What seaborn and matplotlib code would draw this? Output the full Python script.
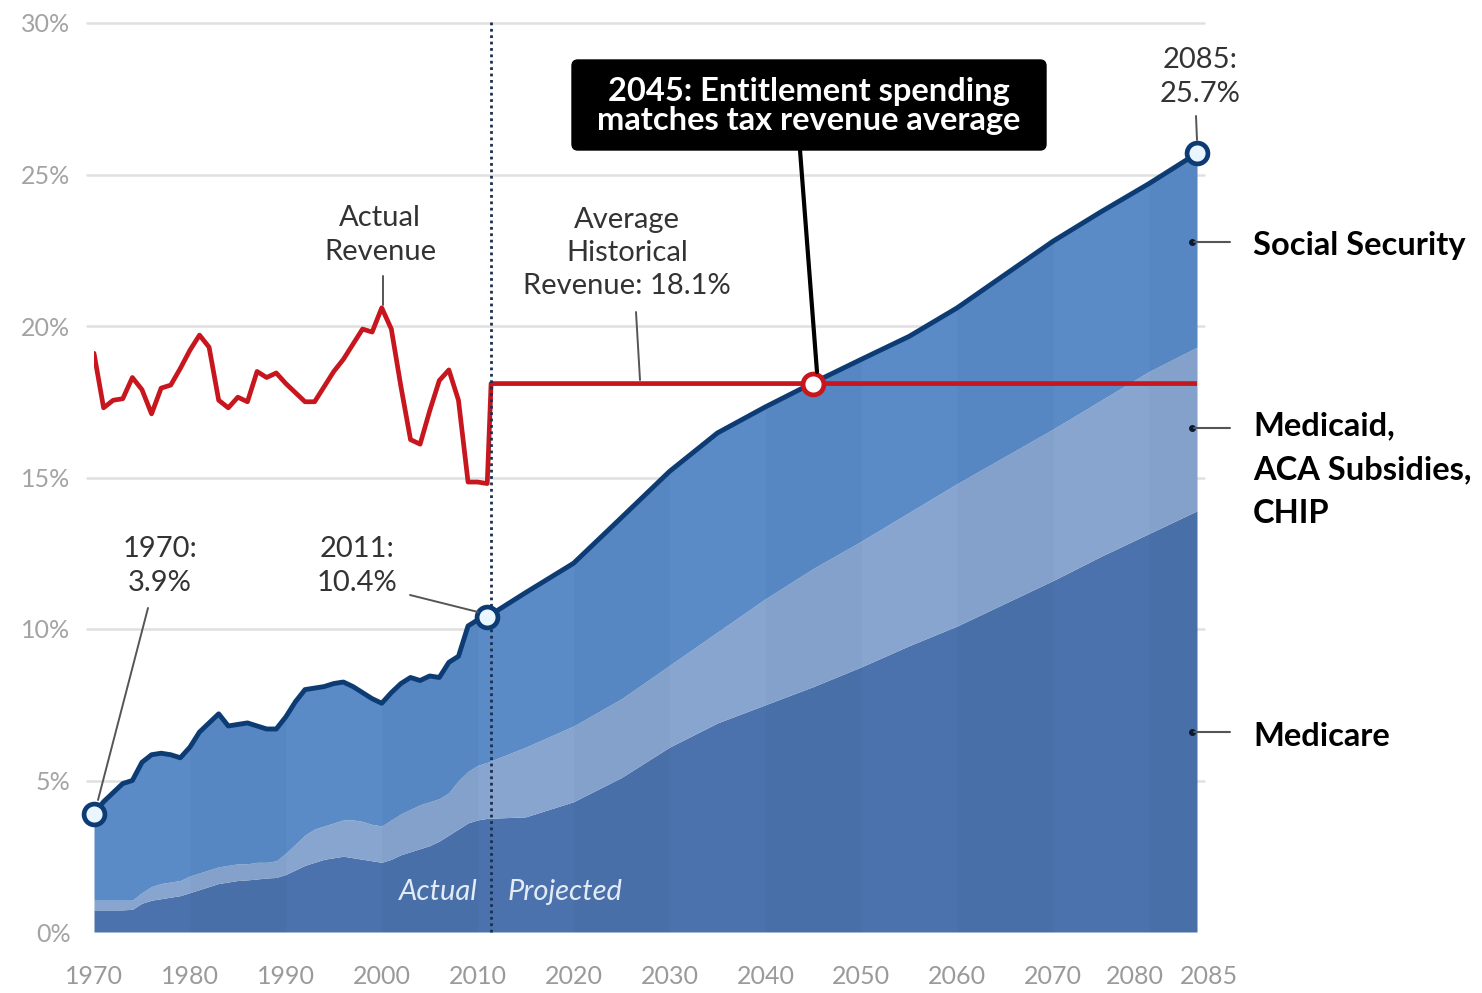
import numpy as np
import pandas as pd
import matplotlib
matplotlib.use("Agg")
import matplotlib.pyplot as plt
import matplotlib.transforms as mtransforms
from matplotlib.patches import FancyBboxPatch
import seaborn as sns

# ---------------- data (share of GDP, %) ----------------
hist_years = list(range(1970, 2012))
proj_years = [2015, 2020, 2025, 2030, 2035, 2040, 2045, 2050, 2055, 2060,
              2065, 2070, 2075, 2080, 2085]
years = hist_years + proj_years

medicare = [0.73, 0.73, 0.73, 0.73, 0.75, 0.95, 1.05, 1.10, 1.15, 1.20,
            1.30, 1.40, 1.50, 1.60, 1.65, 1.70, 1.72, 1.75, 1.78, 1.80,
            1.90, 2.05, 2.20, 2.30, 2.40, 2.45, 2.50, 2.45, 2.40, 2.35,
            2.30, 2.40, 2.55, 2.65, 2.75, 2.85, 3.00, 3.20, 3.40, 3.60,
            3.70, 3.75,
            3.80, 4.30, 5.10, 6.10, 6.90, 7.50, 8.10, 8.75, 9.45, 10.10,
            10.85, 11.60, 12.40, 13.15, 13.90]
medicaid_aca_chip = [0.32, 0.32, 0.32, 0.32, 0.30, 0.35, 0.45, 0.50, 0.50, 0.50,
                     0.55, 0.55, 0.55, 0.55, 0.55, 0.55, 0.53, 0.55, 0.52, 0.55,
                     0.70, 0.85, 1.00, 1.10, 1.10, 1.15, 1.20, 1.25, 1.25, 1.20,
                     1.20, 1.30, 1.35, 1.40, 1.45, 1.45, 1.40, 1.40, 1.60, 1.70,
                     1.80, 1.85,
                     2.30, 2.50, 2.60, 2.70, 3.00, 3.50, 3.90, 4.15, 4.40, 4.70,
                     4.85, 5.00, 5.15, 5.35, 5.40]
social_security = [2.85, 3.25, 3.55, 3.85, 3.95, 4.30, 4.35, 4.30, 4.20, 4.05,
                   4.25, 4.65, 4.85, 5.05, 4.60, 4.60, 4.65, 4.50, 4.40, 4.35,
                   4.50, 4.70, 4.80, 4.65, 4.60, 4.60, 4.55, 4.40, 4.25, 4.15,
                   4.05, 4.20, 4.30, 4.35, 4.10, 4.15, 4.00, 4.30, 4.10, 4.80,
                   4.80, 4.80,
                   5.10, 5.37, 5.98, 6.40, 6.57, 6.33, 6.13, 6.00, 5.81, 5.80,
                   6.00, 6.20, 6.22, 6.20, 6.40]

revenue_years = list(range(1970, 2012))
actual_revenue = [19.1, 17.3, 17.55, 17.6, 18.3, 17.9, 17.1, 17.95, 18.05, 18.6,
                  19.2, 19.7, 19.3, 17.55, 17.3, 17.65, 17.5, 18.5, 18.3, 18.45,
                  18.1, 17.8, 17.5, 17.5, 18.0, 18.5, 18.9, 19.4, 19.9, 19.8,
                  20.6, 19.9, 18.0, 16.25, 16.1, 17.2, 18.2, 18.55, 17.55, 14.85,
                  14.85, 14.8]
avg_revenue = 18.1
avg_years = [2011.4, 2085]
crossover_year = 2045

highlight_years = [1970, 2011, 2085]
x_ticks = [1970, 1980, 1990, 2000, 2010, 2020, 2030, 2040, 2050, 2060, 2070, 2080, 2085]
y_ticks = [0, 5, 10, 15, 20, 25, 30]

df = pd.DataFrame({"year": years, "medicare": medicare,
                   "medicaid": medicaid_aca_chip, "ss": social_security})
df["lvl1"] = df["medicare"]
df["lvl2"] = df["lvl1"] + df["medicaid"]
df["total"] = df["lvl2"] + df["ss"]
rev = pd.DataFrame({"year": revenue_years + avg_years,
                    "revenue": actual_revenue + [avg_revenue] * len(avg_years)})

# ---------------- styling ----------------
sns.set_theme(style="white")
plt.rcParams["font.family"] = ["Lato", "DejaVu Sans"]

W, H = 1482, 993
fig = plt.figure(figsize=(W / 100, H / 100), dpi=100)
ax = fig.add_axes([94 / W, 61 / H, (1197 - 94) / W, (932 - 23) / H])


def px2x(px):
    return 1970 + (px - 94) / ((1197 - 94) / 115)


def px2y(py):
    return (932 - py) / ((932 - 23) / 30)


C_MEDICARE = "#4b72ad"
C_MEDICAID = "#87a5cf"
C_SS = "#5a8bc7"
C_LINE = "#0d3b74"
C_RED = "#c8161e"
TXT = "#333333"

ax.set_xlim(1970, 2085)
ax.set_ylim(0, 30)
ax.set_axisbelow(True)
for yv in y_ticks[1:]:
    ax.axhline(yv, color="#e0e0e0", lw=1.8, zorder=0,
               xmin=-0.006, xmax=1.006, clip_on=False)

yr = df["year"].to_numpy()
ax.fill_between(yr, 0, df["lvl1"], color=C_MEDICARE, lw=0, zorder=1)
ax.fill_between(yr, df["lvl1"], df["lvl2"], color=C_MEDICAID, lw=0, zorder=1)
ax.fill_between(yr, df["lvl2"], df["total"], color=C_SS, lw=0, zorder=1)
# subtle decade banding
for d0 in [1980, 2000, 2020, 2040, 2060, 2080]:
    m = (yr >= d0) & (yr <= min(d0 + 10, 2085))
    ax.fill_between(yr, 0, df["total"], where=m, color="#000000", alpha=0.022,
                    lw=0, zorder=1.1)

sns.lineplot(data=df, x="year", y="total", ax=ax, color=C_LINE, linewidth=3.5,
             zorder=3, legend=False)

# revenue line
sns.lineplot(data=rev, x="year", y="revenue", ax=ax, color=C_RED, linewidth=3.4,
             zorder=4, legend=False, sort=False)

# dotted divider actual / projected
ax.plot([avg_years[0], avg_years[0]], [0, px2y(20)], color="#1c2f4f",
        lw=2.0, ls=(0, (1, 1.3)), zorder=5, clip_on=False)

# highlight markers
hl = df[df["year"].isin(highlight_years)]
ax.plot(hl["year"], hl["total"], "o", ms=15, mfc="#eaf6ff", mec=C_LINE, mew=3.4,
        zorder=6, clip_on=False)
ax.plot([crossover_year], [avg_revenue], "o", ms=15, mfc="#ffffff", mec=C_RED,
        mew=3.4, zorder=6, clip_on=False)

# ---------------- ticks ----------------
ax.set_xticks(x_ticks)
ax.set_xticklabels([str(t) for t in x_ticks])
ax.set_yticks(y_ticks)
ax.set_yticklabels([f"{t}%" for t in y_ticks])
ax.tick_params(axis="x", length=17, width=1.5, color="#dddddd", pad=7,
               labelsize=18, labelcolor="#9a9a9a")
ax.tick_params(axis="y", length=0, pad=17, labelsize=18, labelcolor="#a3a3a3")
shift = {"2080": -14, "2085": 12}
for lab in ax.get_xticklabels():
    if lab.get_text() in shift:
        lab.set_transform(lab.get_transform() + mtransforms.ScaledTranslation(
            shift[lab.get_text()] / 100, 0, fig.dpi_scale_trans))
ax.set_xlabel("")
ax.set_ylabel("")
for s in ax.spines.values():
    s.set_visible(False)

# ---------------- annotations ----------------
ann = dict(ha="center", va="center", color=TXT, fontsize=21, linespacing=1.35, zorder=7)
lead = dict(color="#555555", lw=1.4, zorder=7, clip_on=False)
ax.text(px2x(380), px2y(235), "Actual\nRevenue", **ann)
ax.plot([px2x(383), px2x(383)], [px2y(276), px2y(305)], **lead)

ax.text(px2x(627), px2y(253), "Average\nHistorical\nRevenue: 18.1%", **ann)
ax.plot([px2x(636), px2x(640)], [px2y(312), px2y(380)], **lead)

ax.text(px2x(160), px2y(566), "1970:\n3.9%", **ann)
ax.plot([px2x(148), px2x(98)], [px2y(608), px2y(800)], **lead)

ax.text(px2x(357), px2y(566), "2011:\n10.4%", **ann)
ax.plot([px2x(410), px2x(478)], [px2y(595), px2y(612)], **lead)

ax.text(px2x(1200), px2y(77), "2085:\n25.7%", **ann)
ax.plot([px2x(1196), px2x(1197)], [px2y(116), px2y(140)], **lead)

# black call-out box
bx0, bx1, by0, by1 = px2x(572), px2x(1046), px2y(150), px2y(60)
box = FancyBboxPatch((bx0, by0), bx1 - bx0, by1 - by0,
                     boxstyle="round,pad=0,rounding_size=0.6",
                     mutation_aspect=0.33, fc="#000000", ec="#000000", zorder=8)
ax.add_patch(box)
ax.text((bx0 + bx1) / 2, px2y(106),
        "2045: Entitlement spending\nmatches tax revenue average",
        ha="center", va="center", color="white", fontsize=23.5, fontweight="bold",
        linespacing=1.02, zorder=9)
ax.plot([px2x(800), px2x(817)], [px2y(150), px2y(372)], color="#000000", lw=3.0, zorder=8)

ax.text(px2x(478), px2y(892), "Actual", ha="right", va="center", color="#e3ebf7",
        fontsize=21, style="italic", zorder=7)
ax.text(px2x(508), px2y(892), "Projected", ha="left", va="center", color="#e3ebf7",
        fontsize=21, style="italic", zorder=7)

# right-side series labels
labels = [("Social Security", 242, 245), ("Medicaid,\nACA Subsidies,\nCHIP", 428, 470),
          ("Medicare", 732, 737)]
for text, ydot, ytxt in labels:
    ax.plot([px2x(1192)], [px2y(ydot)], "o", ms=4, color="#0a1a33", zorder=9, clip_on=False)
    ax.plot([px2x(1194), px2x(1230)], [px2y(ydot), px2y(ydot)], color="#555555", lw=1.5,
            zorder=9, clip_on=False)
    ax.text(px2x(1253), px2y(ytxt), text, ha="left", va="center", color="black",
            fontsize=23.5, fontweight="bold", linespacing=1.62, zorder=9, clip_on=False)

fig.savefig("out.png", dpi=100, facecolor="white")
